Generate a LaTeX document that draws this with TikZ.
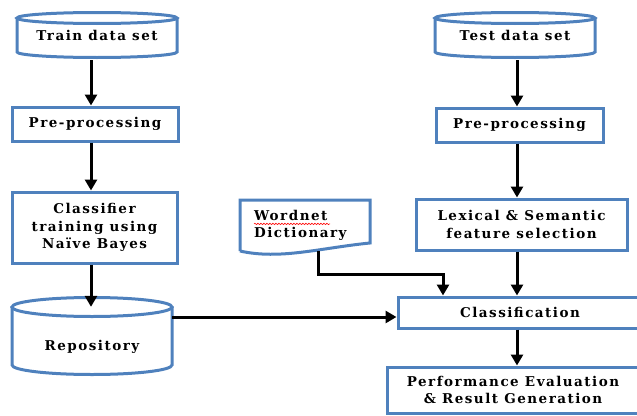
\documentclass[tikz,border=0pt]{standalone}
\usepackage{fontspec}
\setmainfont{DejaVu Serif}[LetterSpace=11]
\usetikzlibrary{arrows.meta,calc,decorations.pathmorphing}
\definecolor{bb}{RGB}{79,129,189}
\begin{document}
\begin{tikzpicture}[x=1pt,y=1pt,
  lbl/.style={font=\bfseries\fontsize{13.5}{17.5}\selectfont, align=center, inner sep=0pt},
  box/.style={lbl, draw=bb, line width=3pt, fill=white},
  shp/.style={draw=bb, line width=3pt},
  arr/.style={-{Triangle[length=11pt,width=12pt]}, line width=3pt, black}]
\useasboundingbox (0,0) rectangle (637,-415);
\clip (0,0) rectangle (637,-415);
% columns
\coordinate (colL) at (91,0);
\coordinate (colR) at (517,0);
% Train data set cylinder
\draw[shp] (17,-18) -- (17,-52) arc[start angle=180,end angle=360,x radius=80,y radius=5.5] -- (177,-18);
\draw[shp] (97,-18) ellipse[x radius=80,y radius=5.5];
\node[lbl, minimum width=160, minimum height=45] (train) at (97,-35.5) {Train data set};
% Test data set cylinder
\draw[shp] (435,-18) -- (435,-52) arc[start angle=180,end angle=360,x radius=80,y radius=5.5] -- (595,-18);
\draw[shp] (515,-18) ellipse[x radius=80,y radius=5.5];
\node[lbl, minimum width=160, minimum height=45] (test) at (515,-35.5) {Test data set};
% Pre-processing
\node[box, minimum width=166, minimum height=34] (pre1) at (95,-124) {Pre-processing};
\node[box, minimum width=167, minimum height=34] (pre2) at (519.5,-125) {Pre-processing};
% Classifier training
\node[box, minimum width=165, minimum height=71] (clf) at (94.5,-227.5) {Classifier\\training using\\Naïve Bayes};
% Repository cylinder
\draw[shp] (12,-307) -- (12,-365) arc[start angle=180,end angle=360,x radius=80,y radius=9.5] -- (172,-307);
\draw[shp] (92,-307) ellipse[x radius=80,y radius=9.5];
\node[minimum width=160, minimum height=78, inner sep=0pt] (repo) at (92,-336) {};
\node[lbl] (repoT) at (92,-347) {Repository};
% Wordnet document
\draw[shp] (240,-251) -- (240,-200) -- (370,-200) -- (370,-243) .. controls (320,-248) and (280,-260) .. (240,-251);
\node[lbl, align=left, anchor=west] (wn) at (254,-225.5) {Wordnet\\Dictionary};
\coordinate (wnout) at (318,-251);
\draw[red, line width=0.6pt, decorate, decoration={snake, segment length=3pt, amplitude=0.7pt}] ([yshift=-14pt]wn.north west) -- ++(76,0);
% Lexical
\node[box, minimum width=211, minimum height=51] (lex) at (521.5,-224.5) {Lexical \& Semantic\\feature selection};
% Classification
\node[box, minimum width=244, minimum height=31] (cls) at (520,-312.5) {Classification};
% Performance
\node[box, minimum width=252, minimum height=46] (perf) at (513,-390) {Performance Evaluation\\\& Result Generation};
% arrows left column
\draw[arr] ([yshift=-2pt]train.south -| colL) -- (pre1.north -| colL);
\draw[arr] (pre1.south -| colL) -- (clf.north -| colL);
\draw[arr] (clf.south -| colL) -- ([yshift=-10pt]repo.north -| colL);
% arrows right column
\draw[arr] ([yshift=-2pt]test.south -| colR) -- (pre2.north -| colR);
\draw[arr] (pre2.south -| colR) -- (lex.north -| colR);
\draw[arr] (lex.south -| colR) -- (cls.north -| colR);
\draw[arr] (cls.south -| colR) -- (perf.north -| colR);
% repository to classification
\draw[arr] ([yshift=-4.5pt]cls.west -| repo.east) -- ([yshift=-4.5pt]cls.west);
% wordnet to classification
\coordinate (wnbend) at (443,0);
\draw[arr] (wnout) |- ($(wnout)!0.5!(wnout |- cls.north)+(0,-1)$) -| (cls.north -| wnbend);
\end{tikzpicture}
\end{document}
